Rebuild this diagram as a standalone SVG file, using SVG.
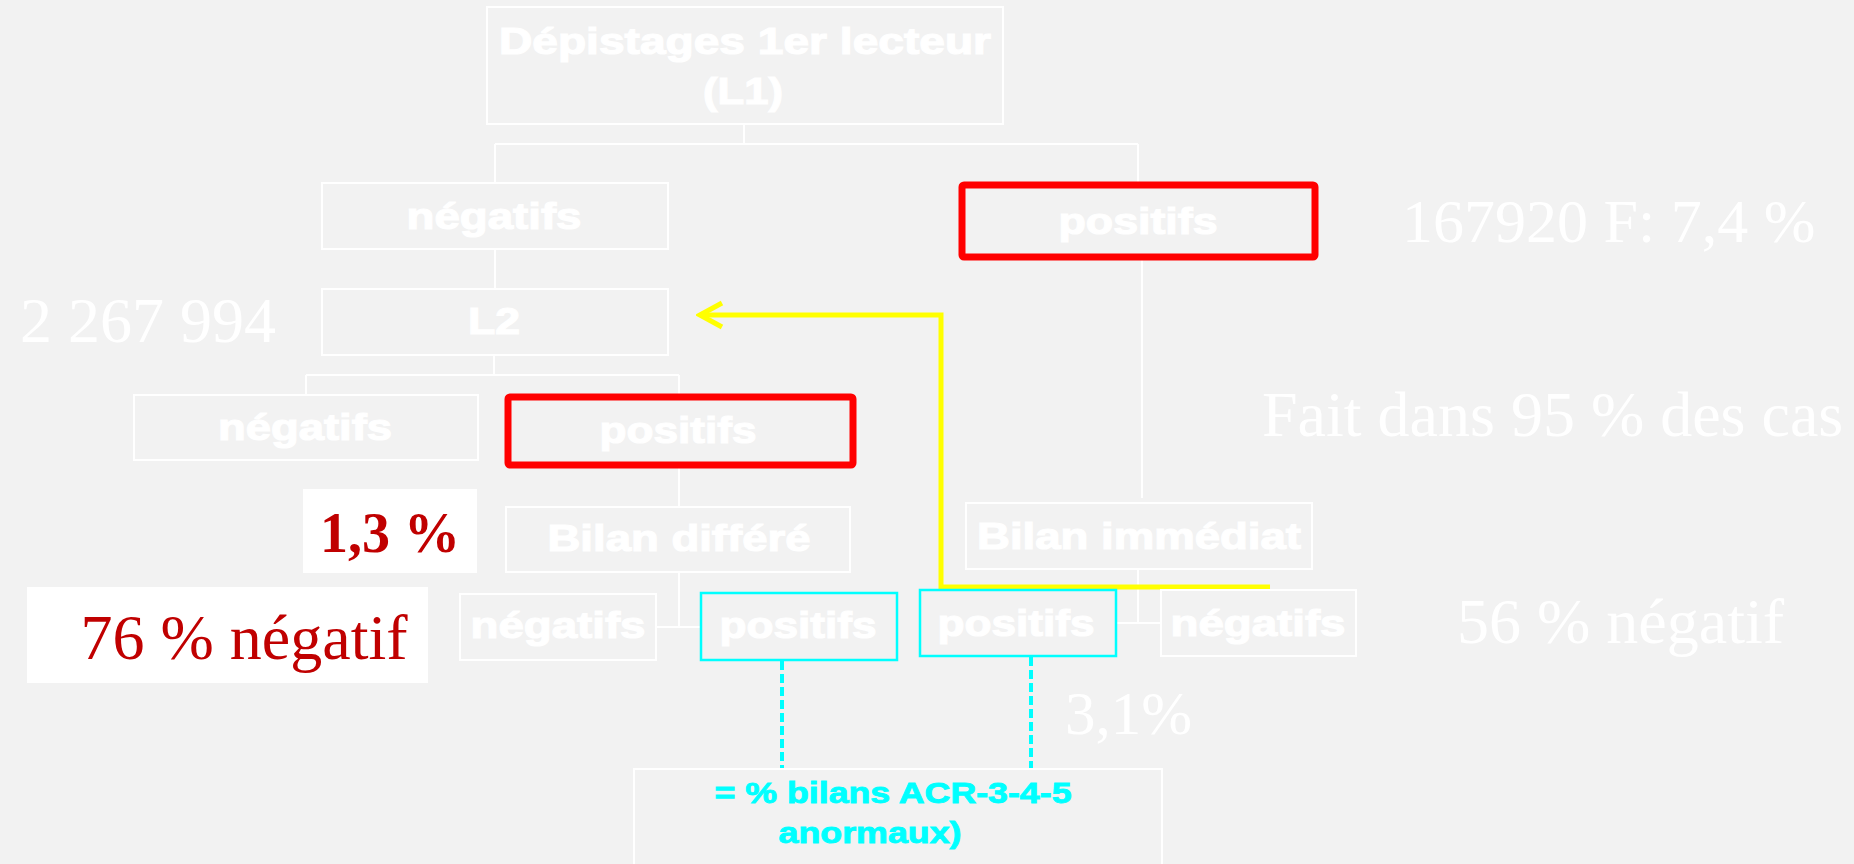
<svg xmlns="http://www.w3.org/2000/svg" width="1854" height="864" viewBox="0 0 1854 864">
<defs>
<style>
.bx{fill:none;stroke:#ffffff;stroke-width:2}
.red{fill:none;stroke:#ff0000;stroke-width:7;stroke-linejoin:round}
.cy{fill:none;stroke:#00ffff;stroke-width:2.5}
.lbl{font-family:"Liberation Sans",Arial,sans-serif;font-weight:bold;font-size:37px;fill:#ffffff;stroke:#ffffff;stroke-width:1.2;text-anchor:middle}
.cyt{font-family:"Liberation Sans",Arial,sans-serif;font-weight:bold;font-size:30px;fill:#00ffff;stroke:#00ffff;stroke-width:0.9;text-anchor:middle}
.ser{font-family:"Liberation Serif","Times New Roman",serif;font-size:64px;fill:#ffffff}
.dr{font-family:"Liberation Serif","Times New Roman",serif;fill:#c00000}
.ln{fill:none;stroke:#ffffff;stroke-width:2}
.dash{fill:none;stroke:#00ffff;stroke-width:4;stroke-dasharray:9 4}
</style>
<marker id="chev" viewBox="0 0 30 30" refX="26" refY="15" markerWidth="30" markerHeight="30" markerUnits="userSpaceOnUse" orient="auto">
<polyline points="4,3 26,15 4,27" fill="none" stroke="#ffff00" stroke-width="5"/>
</marker>
</defs>
<rect x="0" y="0" width="1854" height="864" fill="#f2f2f2"/>

<g id="connectors">
<path class="ln" d="M744,124 V144 M495,144 H1138 M495,144 V183 M1138,144 V185"/>
<path class="ln" d="M495,249 V289"/>
<path class="ln" d="M494,355 V375 M306,375 H679 M306,375 V395 M679,375 V394"/>
<path class="ln" d="M679,467 V507"/>
<path class="ln" d="M679,572 V627 M656,627 H701"/>
<path class="ln" d="M1142,257 V498"/>
<path class="ln" d="M1138,569 V623 M1116,623 H1161"/>
<path class="dash" d="M782,661 V769"/>
<path class="dash" d="M1031,657 V769"/>
<path d="M1270,587 H941 V315 H700" fill="none" stroke="#ffff00" stroke-width="5" marker-end="url(#chev)"/>
</g>

<g id="n-l1">
<rect class="bx" x="487" y="7" width="516" height="117"/>
<text class="lbl" x="745" y="54" textLength="492" lengthAdjust="spacingAndGlyphs">Dépistages 1er lecteur</text>
<text class="lbl" x="743" y="104" textLength="80" lengthAdjust="spacingAndGlyphs">(L1)</text>
</g>

<g id="n-neg1">
<rect class="bx" x="322" y="183" width="346" height="66"/>
<text class="lbl" x="494" y="229" textLength="175" lengthAdjust="spacingAndGlyphs">négatifs</text>
</g>

<g id="n-pos1">
<rect class="red" x="962" y="185" width="353" height="72" rx="2"/>
<text class="lbl" x="1138" y="234" textLength="159" lengthAdjust="spacingAndGlyphs">positifs</text>
</g>

<g id="n-l2">
<rect class="bx" x="322" y="289" width="346" height="66"/>
<text class="lbl" x="494" y="334" textLength="52" lengthAdjust="spacingAndGlyphs">L2</text>
</g>

<g id="n-neg2">
<rect class="bx" x="134" y="395" width="344" height="65"/>
<text class="lbl" x="305" y="440" textLength="174" lengthAdjust="spacingAndGlyphs">négatifs</text>
</g>

<g id="n-pos2">
<rect class="red" x="508" y="397" width="345" height="68" rx="2"/>
<text class="lbl" x="678" y="443" textLength="157" lengthAdjust="spacingAndGlyphs">positifs</text>
</g>

<g id="n-bilan-diff">
<rect class="bx" x="506" y="507" width="344" height="65"/>
<text class="lbl" x="679" y="551" textLength="263" lengthAdjust="spacingAndGlyphs">Bilan différé</text>
</g>

<g id="n-neg3">
<rect class="bx" x="460" y="594" width="196" height="66"/>
<text class="lbl" x="558" y="638" textLength="175" lengthAdjust="spacingAndGlyphs">négatifs</text>
</g>

<g id="n-pos3">
<rect class="cy" x="701" y="593" width="196" height="67"/>
<text class="lbl" x="798" y="638" textLength="157" lengthAdjust="spacingAndGlyphs">positifs</text>
</g>

<g id="n-bilan-imm">
<rect class="bx" x="966" y="503" width="346" height="66"/>
<text class="lbl" x="1139" y="549" textLength="324" lengthAdjust="spacingAndGlyphs">Bilan immédiat</text>
</g>

<g id="n-pos4">
<rect class="cy" x="920" y="590" width="196" height="66"/>
<text class="lbl" x="1016" y="636" textLength="157" lengthAdjust="spacingAndGlyphs">positifs</text>
</g>

<g id="n-neg4">
<rect class="bx" x="1161" y="590" width="195" height="66"/>
<text class="lbl" x="1258" y="636" textLength="175" lengthAdjust="spacingAndGlyphs">négatifs</text>
</g>

<g id="n-acr">
<rect class="bx" x="634" y="769" width="528" height="110"/>
<text class="cyt" x="893" y="803" textLength="357" lengthAdjust="spacingAndGlyphs">= % bilans ACR-3-4-5</text>
<text class="cyt" x="870" y="843" textLength="183" lengthAdjust="spacingAndGlyphs">anormaux)</text>
</g>

<g id="annotations">
<text class="ser" x="1402" y="242" style="font-size:62px">167920 F: 7,4 %</text>
<text class="ser" x="20" y="342">2 267 994</text>
<text class="ser" x="1262" y="436">Fait dans 95 % des cas</text>
<text class="ser" x="1457" y="643">56 % négatif</text>
<text class="ser" x="1065" y="734" style="font-size:61px">3,1%</text>
<rect x="303" y="489" width="174" height="84" fill="#ffffff"/>
<text class="dr" x="390" y="552" text-anchor="middle" style="font-size:56px;font-weight:bold">1,3 %</text>
<rect x="27" y="587" width="401" height="96" fill="#ffffff"/>
<text class="dr" x="244" y="659" text-anchor="middle" style="font-size:64px">76 % négatif</text>
</g>
</svg>
